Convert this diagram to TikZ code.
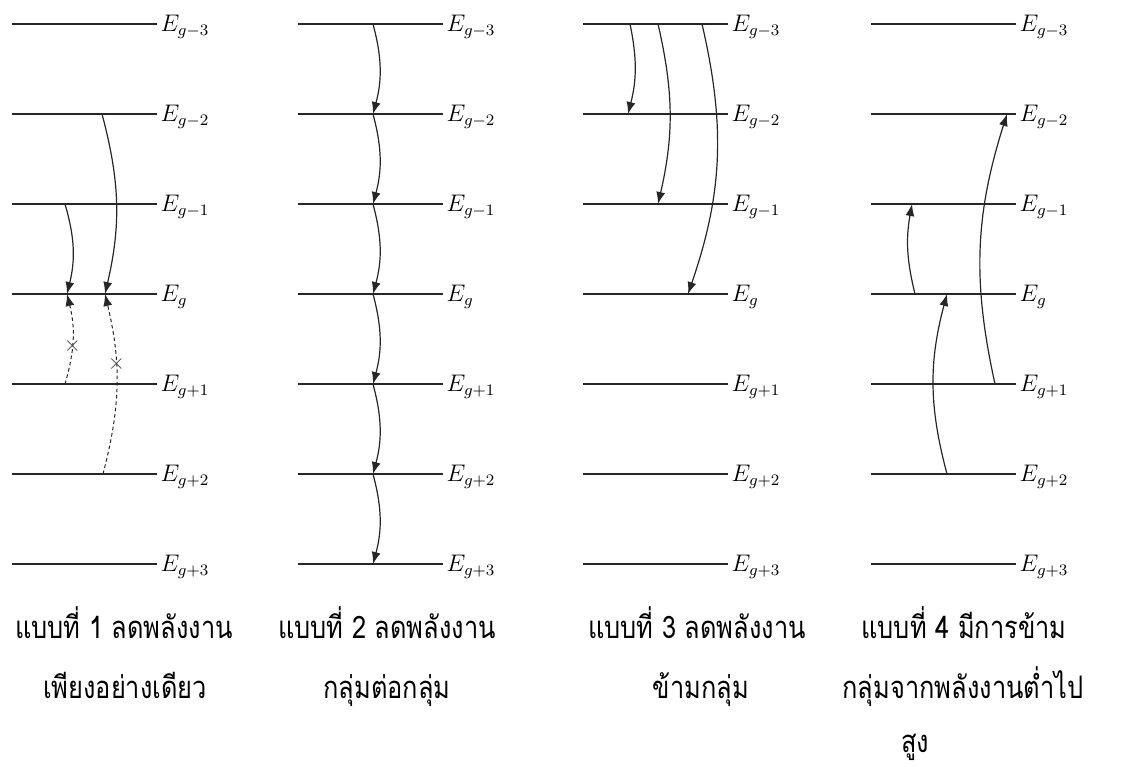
\documentclass[tikz,border=0pt]{standalone}
\usepackage{fontspec}
\setmainfont{Liberation Serif}
\newfontfamily\thaifont[Script=Thai]{Loma}
\usetikzlibrary{arrows.meta,calc}

\begin{document}
\begin{tikzpicture}[
  x=0.5pt, y=-0.5pt,
  >={Latex[length=6pt,width=4.5pt]},
  level/.style={line width=0.6pt, draw=black!85},
  elbl/.style={anchor=west, inner sep=1.5pt, yshift=-1.5pt, font=\fontsize{12}{13}\selectfont},
  jump/.style={->, line width=0.6pt, draw=black!85},
  blocked/.style={jump, dash pattern=on 1.8pt off 1.4pt, line width=0.5pt},
  nogo/.style={inner sep=0pt, font=\fontsize{11}{11}\selectfont, text=black!75},
  capt/.style={anchor=base, inner sep=0pt, xscale=0.82, font=\thaifont\fontsize{15.5}{18}\selectfont},
]
\useasboundingbox (0,0) rectangle (1138,766);

% ---- energy levels, four panels ----
\foreach \p/\x in {1/12, 2/298, 3/583, 4/871}{
  \foreach \i/\s in {0/g-3, 1/g-2, 2/g-1, 3/g, 4/g+1, 5/g+2, 6/g+3}{
    \draw[level] (\x,24+90*\i) -- ++(145,0) node[elbl] (e\p-\i) {$E_{\s}$};
  }
}

% ---- type 1: down only, no way back ----
\coordinate (s1a) at (65,204);  \coordinate (t1a) at (67,294);
\coordinate (s1b) at (102,114); \coordinate (t1b) at (105,294);
\coordinate (u1a) at (65,384);  \coordinate (u1b) at (103,474);
\draw[jump] (s1a) to[bend left=15] (t1a);
\draw[jump] (s1b) to[bend left=14] (t1b);
\draw[blocked] (u1a) to[bend right=15] node[nogo, pos=0.42] (x1a) {$\times$} (t1a);
\draw[blocked] (u1b) to[bend right=14] node[nogo, pos=0.62] (x1b) {$\times$} (t1b);

% ---- type 2: group to group ----
\foreach \i in {0,...,6} \coordinate (c2-\i) at (373,24+90*\i);
\foreach \i [evaluate=\i as \j using int(\i+1)] in {0,...,5}
  \draw[jump] (c2-\i) to[bend left=15] (c2-\j);

% ---- type 3: skipping groups ----
\coordinate (s3a) at (630,24); \coordinate (t3a) at (628,114);
\coordinate (s3b) at (658,24); \coordinate (t3b) at (658,204);
\coordinate (s3c) at (702,24); \coordinate (t3c) at (688,294);
\draw[jump] (s3a) to[bend left=13] (t3a);
\draw[jump] (s3b) to[bend left=13] (t3b);
\draw[jump] (s3c) to[bend left=16] (t3c);

% ---- type 4: upward ----
\coordinate (s4a) at (915,294); \coordinate (t4a) at (912,204);
\coordinate (s4b) at (995,384); \coordinate (t4b) at (1007,114);
\coordinate (s4c) at (947,474); \coordinate (t4c) at (947,294);
\draw[jump] (s4a) to[bend left=12] (t4a);
\draw[jump] (s4b) to[bend left=15] (t4b);
\draw[jump] (s4c) to[bend left=15] (t4c);

% ---- captions ----
\node[capt] (c1a) at (124,638) {แบบที่ 1 ลดพลังงาน};
\node[capt] (c1b) at (125,698) {เพียงอย่างเดียว};
\node[capt] (c2a) at (387,638) {แบบที่ 2 ลดพลังงาน};
\node[capt] (c2b) at (387,698) {กลุ่มต่อกลุ่ม};
\node[capt] (c3a) at (697,638) {แบบที่ 3 ลดพลังงาน};
\node[capt] (c3b) at (701,698) {ข้ามกลุ่ม};
\node[capt] (c4a) at (964,638) {แบบที่ 4 มีการข้าม};
\node[capt] (c4b) at (963,698) {กลุ่มจากพลังงานต่ำไป};
\node[capt] (c4c) at (915,752) {สูง};
\end{tikzpicture}
\end{document}
